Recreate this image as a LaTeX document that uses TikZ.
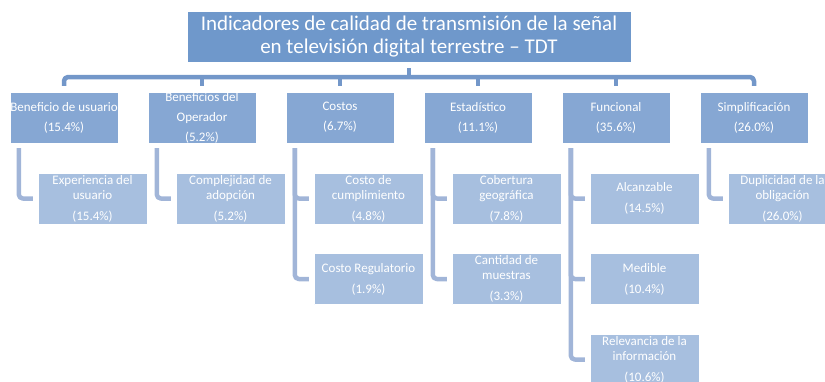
\documentclass[tikz,border=0pt]{standalone}
\usepackage{fontspec}
\setmainfont{Carlito}
\usepackage{tikz}
\usetikzlibrary{positioning, calc}
\definecolor{tdtdeep}{HTML}{6F98CB}
\definecolor{tdtmid}{HTML}{86A7D3}
\definecolor{tdtlight}{HTML}{A7BFDF}
\definecolor{tdtbar}{HTML}{7397C9}
\definecolor{tdtstem}{HTML}{A1B5D8}

\begin{document}
\begin{tikzpicture}[x=1pt, y=-1pt, line join=round,
    titlebox/.style={fill=tdtdeep, draw=white, thin, text=white, minimum width=444pt,
                     minimum height=51pt, inner sep=0pt, align=center,
                     font=\fontsize{21}{23}\selectfont},
    catbox/.style={fill=tdtmid, draw=white, thin, text=white, minimum width=108pt,
                   minimum height=51pt, inner sep=0pt, align=center,
                   font=\fontsize{13}{20}\selectfont},
    subbox/.style={catbox, fill=tdtlight, minimum width=109pt,
                   font=\fontsize{13}{15}\selectfont},
    trunk/.style={tdtbar, line width=4.5pt, rounded corners=4pt},
    branch/.style={tdtstem, line width=4.5pt, rounded corners=4pt}]
  \useasboundingbox (0,0) rectangle (825,381);
  \node[titlebox] (title) at (409,36.5)
    {Indicadores de calidad de transmisión de la señal\\en televisión digital terrestre -- TDT};
  \coordinate (bus) at (0,77);
  % categorias
  \foreach \i/\cx/\txt in {1/64/{Beneficio de usuario\\(15.4\%)},
                           2/202/{Beneficios del\\Operador\\(5.2\%)},
                           3/340/{Costos\\(6.7\%)},
                           4/478/{Estadístico\\(11.1\%)},
                           5/616/{Funcional\\(35.6\%)},
                           6/754/{Simplificación\\(26.0\%)}}
    \node[catbox] (c\i) at (\cx,117.5) {\txt};
  % indicadores
  \foreach \p/\r/\sx/\sy/\txt in {1/1/92.5/198.5/{Experiencia del\\usuario\\[6pt](15.4\%)},
                                  2/1/230.5/198.5/{Complejidad de\\adopción\\[6pt](5.2\%)},
                                  3/1/368.5/198.5/{Costo de\\cumplimiento\\[6pt](4.8\%)},
                                  3/2/368.5/279/{Costo Regulatorio\\[6pt](1.9\%)},
                                  4/1/506.5/198.5/{Cobertura\\geográfica\\[6pt](7.8\%)},
                                  4/2/506.5/279/{Cantidad de\\muestras\\[6pt](3.3\%)},
                                  5/1/644.5/198.5/{Alcanzable\\[6pt](14.5\%)},
                                  5/2/644.5/279/{Medible\\[6pt](10.4\%)},
                                  5/3/644.5/359.5/{Relevancia de la\\información\\[6pt](10.6\%)},
                                  6/1/782.5/198.5/{Duplicidad de la\\obligación\\[6pt](26.0\%)}}
    \node[subbox] (s\p\r) at (\sx,\sy) {\txt};
  % conectores
  \draw[trunk] ([yshift=-6pt]title.south) -- (title.south |- bus);
  \draw[trunk] ([yshift=6pt]c1.north) -- (c1.north |- bus) -- (c6.north |- bus)
    -- ([yshift=6pt]c6.north);
  \foreach \i in {2,...,5}
    \draw[trunk] (c\i.north |- bus) -- ([yshift=6pt]c\i.north);
  \foreach \p/\r in {1/1, 2/1, 3/1, 3/2, 4/1, 4/2, 5/1, 5/2, 5/3, 6/1}
    \draw[branch] ([shift={(9,5)}]c\p.south west) |- ([xshift=-5pt]s\p\r.west);
\end{tikzpicture}
\end{document}
